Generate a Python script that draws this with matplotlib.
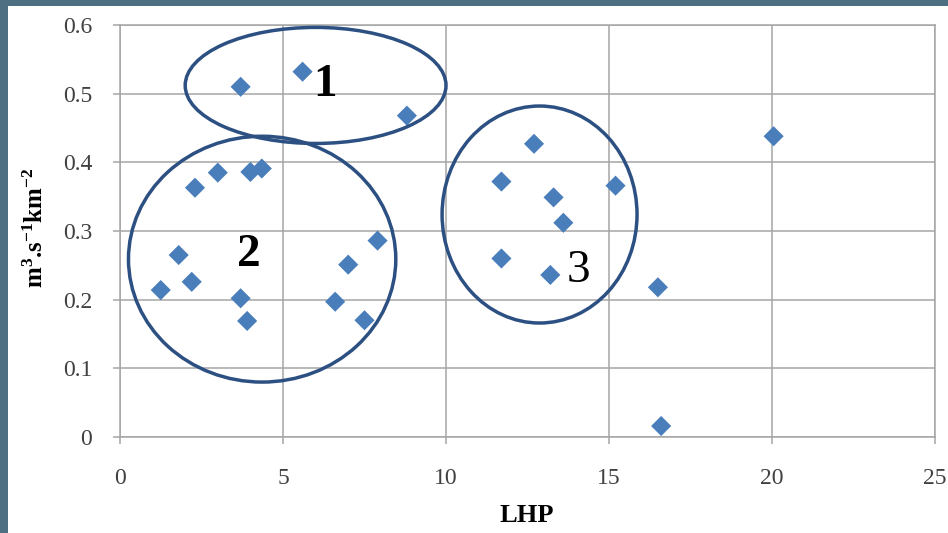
import numpy as np
import matplotlib
matplotlib.use('Agg')
import matplotlib.pyplot as plt
from matplotlib.patches import Ellipse, Rectangle

# LHP vs specific discharge (m3 s-1 km-2)
lhp = [3.7, 5.6, 8.8,
       2.3, 3.0, 4.0, 4.35, 1.8, 7.9, 7.0, 1.25, 2.2, 3.7, 3.9, 6.6, 7.5,
       12.7, 11.7, 13.3, 13.6, 15.2, 11.7, 13.2,
       16.5, 16.6, 20.05]
q = [0.51, 0.532, 0.468,
     0.363, 0.385, 0.386, 0.391, 0.265, 0.286, 0.251, 0.214, 0.226, 0.202, 0.169, 0.197, 0.170,
     0.427, 0.372, 0.349, 0.312, 0.366, 0.260, 0.236,
     0.218, 0.016, 0.438]

group_names = ['1', '2', '3']

x_ticks = [0, 5, 10, 15, 20, 25]
y_ticks = [0, 0.1, 0.2, 0.3, 0.4, 0.5, 0.6]

plt.rcParams['mathtext.fontset'] = 'custom'
plt.rcParams['mathtext.rm'] = 'Liberation Serif:bold'
plt.rcParams['mathtext.bf'] = 'Liberation Serif:bold'
plt.rcParams['mathtext.default'] = 'rm'

fig = plt.figure(figsize=(9.48, 5.33), dpi=100)
fig.patch.set_facecolor('#4e6e82')
fig.patches.append(Rectangle((8 / 948, 0), 1, 1 - 6 / 533, transform=fig.transFigure,
                             facecolor='white', edgecolor='none', zorder=-10))

ax = fig.add_axes([120 / 948, 1 - 437 / 533, 815 / 948, 412 / 533])
ax.set_facecolor('white')

ax.scatter(lhp, q, marker='D', s=105, color='#4a7ebb', edgecolors='none', zorder=3)

# circled groups
ell_col = '#2d5082'
ax.add_patch(Ellipse((6.0, 0.512), 8.0, 0.169, fill=False, edgecolor=ell_col, lw=2.5, zorder=4, clip_on=False))
ax.add_patch(Ellipse((4.36, 0.259), 8.2, 0.358, fill=False, edgecolor=ell_col, lw=2.5, zorder=4, clip_on=False))
ax.add_patch(Ellipse((12.87, 0.324), 5.98, 0.316, fill=False, edgecolor=ell_col, lw=2.5, zorder=4, clip_on=False))

ax.text(6.3, 0.513, group_names[0], fontsize=34, fontweight='bold', family='Liberation Serif',
        ha='center', va='center', zorder=5)
ax.text(3.95, 0.265, group_names[1], fontsize=34, fontweight='bold', family='Liberation Serif',
        ha='center', va='center', zorder=5)
ax.text(14.05, 0.242, group_names[2], fontsize=34, family='Liberation Serif',
        ha='center', va='center', zorder=5)

ax.set_xlim(0, 25)
ax.set_ylim(0, 0.6)
ax.set_xticks(x_ticks)
ax.set_yticks(y_ticks)
ax.set_xticklabels([str(t) for t in x_ticks])
ax.set_yticklabels(['0' if t == 0 else f'{t:.1f}' for t in y_ticks])
ax.grid(True, color='#a6a6a6', lw=1.1, zorder=0)
ax.set_axisbelow(True)
for s in ax.spines.values():
    s.set_color('#a6a6a6')
    s.set_linewidth(1.1)
ax.tick_params(axis='both', color='#a6a6a6', length=5, width=1.1, labelcolor='#404040', labelsize=17)
ax.tick_params(axis='y', pad=15)
ax.tick_params(axis='x', pad=17)
for lab in ax.get_xticklabels() + ax.get_yticklabels():
    lab.set_family('Liberation Serif')

fig.text(527 / 948, 1 - 516 / 533, 'LHP', fontsize=19, fontweight='bold', family='Liberation Serif',
         ha='center', va='center')
fig.text(36 / 948, 1 - 228 / 533, r'm$^{3}$.s$^{-1}$km$^{-2}$', fontsize=18, fontweight='bold',
         family='Liberation Serif', rotation=90, ha='center', va='center')

fig.savefig('out.png', dpi=100, facecolor=fig.get_facecolor())
